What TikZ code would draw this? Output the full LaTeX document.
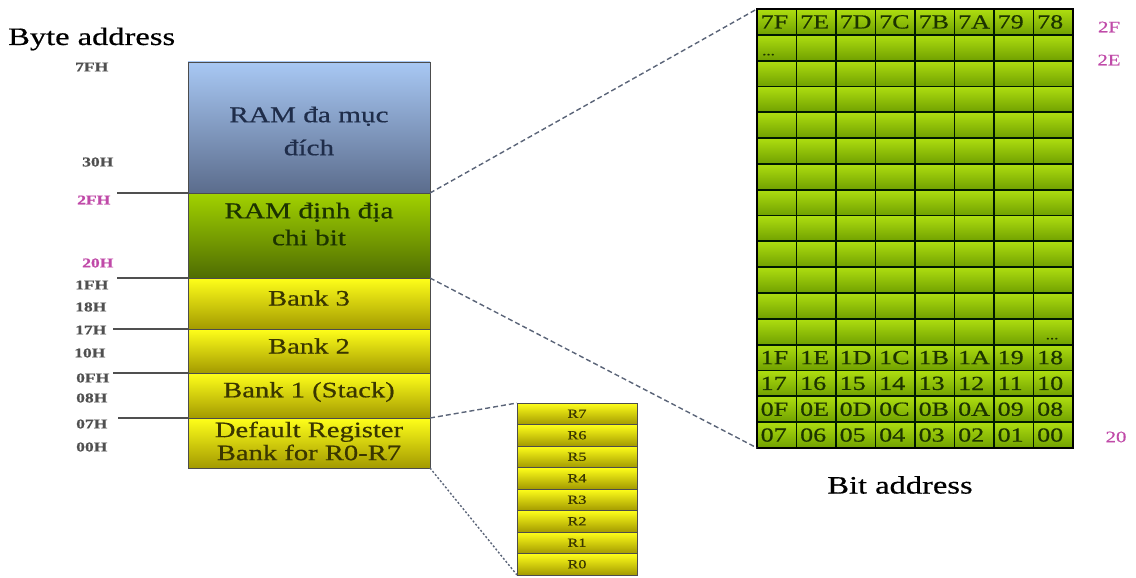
\documentclass[tikz,border=0pt]{standalone}
\usepackage{fontspec}
\setmainfont{Liberation Serif}[FakeStretch=1.3, FakeBold=0.6]
\definecolor{bluetop}{HTML}{A8C8F4}
\definecolor{bluebot}{HTML}{5B6C8C}
\definecolor{greentop}{HTML}{A2D200}
\definecolor{greenbot}{HTML}{4E6C02}
\definecolor{yeltop}{HTML}{FFFF1A}
\definecolor{yelmid}{HTML}{F2EE05}
\definecolor{yelbot}{HTML}{A39A00}
\definecolor{celltop}{HTML}{AEDE10}
\definecolor{cellbot}{HTML}{70A000}
\definecolor{navytxt}{HTML}{1F2D4A}
\definecolor{greentxt}{HTML}{1C3300}
\definecolor{olivetxt}{HTML}{3A3600}
\definecolor{addrgray}{HTML}{505050}
\definecolor{addrpink}{HTML}{C04AA8}
\definecolor{dashcol}{HTML}{5A6478}
\begin{document}
\begin{tikzpicture}[x=1pt,y=-1pt,
  membox/.style={draw=black!70, line width=0.8pt, minimum width=242pt,
    anchor=north west, inner sep=0pt, outer sep=0pt},
  bluefill/.style={top color=bluetop, bottom color=bluebot},
  greenfill/.style={top color=greentop, bottom color=greenbot},
  yelfill/.style={shading=axis, top color=yeltop, middle color=yelmid, bottom color=yelbot},
  boxtext/.style={align=center, inner sep=0pt},
  addr/.style={anchor=west, inner sep=0pt, text=addrgray,
    font=\fontsize{13.5}{14}\selectfont\bfseries},
  addrhl/.style={addr, text=addrpink},
  sep/.style={draw=addrgray, line width=1.8pt},
  zoomdash/.style={draw=dashcol, line width=1.4pt, dash pattern=on 5pt off 3pt},
  zoomdot/.style={draw=dashcol, line width=1.4pt, dash pattern=on 2pt off 2pt},
  cell/.style={draw=black!90!green, line width=1.8pt, anchor=north west,
    minimum width=39.5pt, minimum height=25.82pt, inner sep=0pt, outer sep=0pt,
    top color=celltop, bottom color=cellbot},
  celltext/.style={anchor=west, inner sep=0pt, xshift=3.5pt, text=greentxt,
    font=\fontsize{20}{20}\selectfont},
  dots/.style={anchor=south west, inner sep=0pt, text=greentxt,
    font=\fontsize{13}{13}\selectfont},
  reg/.style={draw=black!70, line width=0.8pt, anchor=north west,
    minimum width=120pt, minimum height=21.5pt, inner sep=0pt, outer sep=0pt,
    yelfill, text=olivetxt, font=\fontsize{12.5}{12.5}\selectfont},
  bitlbl/.style={text=addrpink, inner sep=0pt, font=\fontsize{16}{16}\selectfont}
]
\useasboundingbox (0,0) rectangle (1136,578);

% ---- byte-addressed memory map ----
\node[anchor=west, inner sep=0pt, font=\fontsize{25}{25}\selectfont] (byteaddr) at (8,39) {Byte address};

\node[membox, bluefill, minimum height=131pt] (ramgp) at (188,62) {};
\node[membox, greenfill, minimum height=85pt] (rambit) at (188,193) {};
\node[membox, yelfill, minimum height=51pt] (bank3) at (188,278) {};
\node[membox, yelfill, minimum height=44pt] (bank2) at (188,329) {};
\node[membox, yelfill, minimum height=45pt] (bank1) at (188,373) {};
\node[membox, yelfill, minimum height=50pt] (bank0) at (188,418) {};

\node[boxtext, text=navytxt, font=\fontsize{22.5}{33}\selectfont] (t-ramgp) at (309,131) {RAM đa mục\\đích};
\node[boxtext, text=greentxt, font=\fontsize{22.5}{27}\selectfont] (t-rambit) at (309,224) {RAM định địa\\chi bit};
\node[boxtext, text=olivetxt, font=\fontsize{22}{22}\selectfont] (t-bank3) at (309,298) {Bank 3};
\node[boxtext, text=olivetxt, font=\fontsize{22}{22}\selectfont] (t-bank2) at (309,346) {Bank 2};
\node[boxtext, text=olivetxt, font=\fontsize{22}{22}\selectfont] (t-bank1) at (309,392) {Bank 1 (Stack)};
\node[boxtext, text=olivetxt, font=\fontsize{22}{23}\selectfont] (t-bank0) at (309,441) {Default Register\\Bank for R0-R7};

% address labels
\node[addr] (a7f) at (75,67) {7FH};
\node[addr] (a30) at (82,162) {30H};
\node[addrhl] (a2f) at (77,200) {2FH};
\node[addrhl] (a20) at (82,263) {20H};
\node[addr] (a1f) at (75,285) {1FH};
\node[addr] (a18) at (75,307) {18H};
\node[addr] (a17) at (75,330) {17H};
\node[addr] (a10) at (74,353) {10H};
\node[addr] (a0f) at (76,378) {0FH};
\node[addr] (a08) at (76,398) {08H};
\node[addr] (a07) at (76,424) {07H};
\node[addr] (a00) at (76,447) {00H};

% boundary ticks
\coordinate (s1) at (117,193);
\coordinate (s2) at (117,278);
\coordinate (s3) at (113,329);
\coordinate (s4) at (113,373);
\coordinate (s5) at (118,418);
\draw[sep] (s1) -- (rambit.north west);
\draw[sep] (s2) -- (bank3.north west);
\draw[sep] (s3) -- (bank2.north west);
\draw[sep] (s4) -- (bank1.north west);
\draw[sep] (s5) -- (bank0.north west);

% ---- register bank R7..R0 ----
\foreach \n [count=\i from 0] in {7,6,5,4,3,2,1,0} {
  \node[reg] (r\n) at (517,{403+21.5*\i}) {R\n};
}

% ---- bit-addressable area ----
\foreach \r in {0,...,16} {
  \foreach \c in {0,...,7} {
    \node[cell] (c-\r-\c) at ({757+39.5*\c},{9+25.82*\r}) {};
  }
}
\draw[black, line width=2.6pt] (c-0-0.north west) rectangle (c-16-7.south east);

\foreach \lab [count=\c from 0] in {7F,7E,7D,7C,7B,7A,79,78}
  \node[celltext] (l-0-\c) at (c-0-\c.west) {\lab};
\foreach \lab [count=\c from 0] in {1F,1E,1D,1C,1B,1A,19,18}
  \node[celltext] (l-13-\c) at (c-13-\c.west) {\lab};
\foreach \lab [count=\c from 0] in {17,16,15,14,13,12,11,10}
  \node[celltext] (l-14-\c) at (c-14-\c.west) {\lab};
\foreach \lab [count=\c from 0] in {0F,0E,0D,0C,0B,0A,09,08}
  \node[celltext] (l-15-\c) at (c-15-\c.west) {\lab};
\foreach \lab [count=\c from 0] in {07,06,05,04,03,02,01,00}
  \node[celltext] (l-16-\c) at (c-16-\c.west) {\lab};

\node[dots] (dots1) at ([shift={(5,-5)}]c-1-0.south west) {...};
\node[dots] (dots2) at ([shift={(12,-5)}]c-12-7.south west) {...};

\node[bitlbl] (b2f) at (1109,27) {2F};
\node[bitlbl] (b2e) at (1109,60) {2E};
\node[bitlbl] (b20) at (1116,437) {20};

\node[inner sep=0pt, font=\fontsize{25}{25}\selectfont] (bitaddr) at (900,485) {Bit address};

% ---- zoom connectors ----
\draw[zoomdash] (rambit.north east) -- (c-0-0.north west);
\draw[zoomdash] (rambit.south east) -- (c-16-0.south west);
\draw[zoomdash] (bank0.north east) -- (r7.north west);
\draw[zoomdot] (bank0.south east) -- (r0.south west);
\end{tikzpicture}
\end{document}
